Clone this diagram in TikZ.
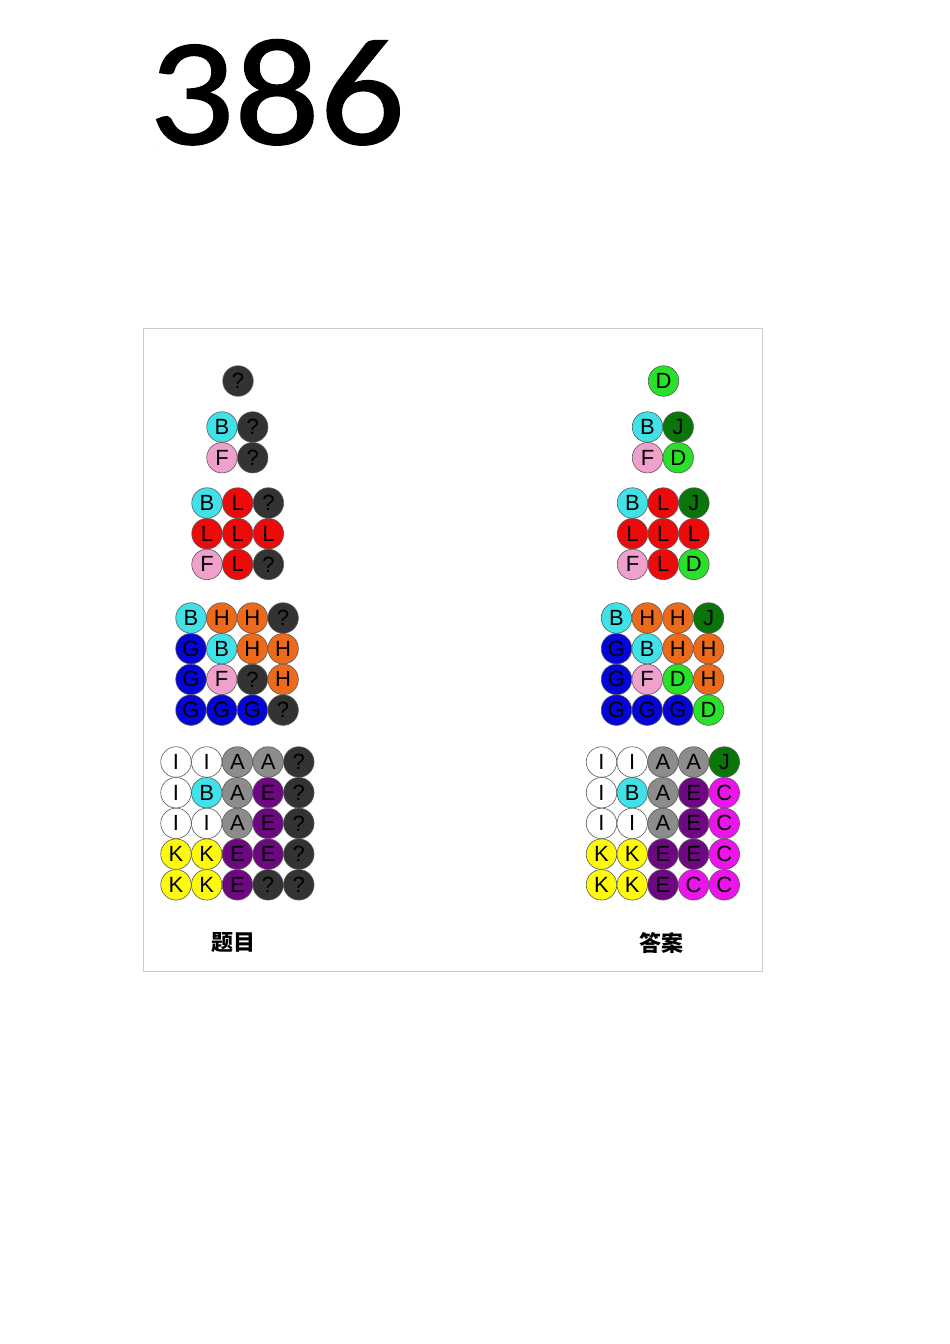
\documentclass[tikz,border=0pt]{standalone}
\usepackage{fontspec}
\setmainfont{Liberation Sans}
\newfontfamily\titlefont{Carlito}[FakeBold=1]
\newfontfamily\cjkfont{Noto Sans CJK SC}
\usepackage{tikz}

\definecolor{ballQ}{RGB}{51,51,51}
\definecolor{ballB}{RGB}{64,226,232}
\definecolor{ballF}{RGB}{240,160,204}
\definecolor{ballL}{RGB}{236,10,10}
\definecolor{ballH}{RGB}{236,106,26}
\definecolor{ballG}{RGB}{5,5,214}
\definecolor{ballA}{RGB}{140,140,140}
\definecolor{ballE}{RGB}{110,8,130}
\definecolor{ballI}{RGB}{255,255,255}
\definecolor{ballK}{RGB}{255,250,10}
\definecolor{ballD}{RGB}{40,225,40}
\definecolor{ballJ}{RGB}{10,118,10}
\definecolor{ballC}{RGB}{235,20,235}

% Q stands for the unknown ball
\newcommand{\balltext}[1]{\if Q#1?\else#1\fi}
% name, x of first column, y of first row, rows of letters
\newcommand{\ballgroup}[4]{%
	\foreach \row [count=\r] in {#4} {
		\foreach \c [count=\i] in \row {
			\node[ball, fill=ball\c] (#1-\r-\i) at ({#2+(\i-1)*30.7}, {#3+(\r-1)*30.7}) {\balltext{\c}};
		}
	}
}

\begin{document}
\begin{tikzpicture}[x=1pt, y=-1pt,
	ball/.style={circle, draw=black!65, line width=0.6pt, minimum size=30.5pt, inner sep=0pt, font=\fontsize{22}{22}\selectfont},
	caption/.style={font=\cjkfont\bfseries\fontsize{22}{22}\selectfont}]

	\useasboundingbox (0,0) rectangle (950,1344);

	% page number
	\node[anchor=base, font=\titlefont\fontsize{153}{153}\selectfont] (title) at (277,144) {\scalebox{1.1}[1]{386}};

	% frame
	\draw[black!20] (143,328) rectangle (762,971);

	% puzzle
	\ballgroup{q1}{238}{381}{{Q}}
	\ballgroup{q2}{222}{427}{{B,Q},{F,Q}}
	\ballgroup{q3}{207}{503}{{B,L,Q},{L,L,L},{F,L,Q}}
	\ballgroup{q4}{191}{618}{{B,H,H,Q},{G,B,H,H},{G,F,Q,H},{G,G,G,Q}}
	\ballgroup{q5}{176}{762}{{I,I,A,A,Q},{I,B,A,E,Q},{I,I,A,E,Q},{K,K,E,E,Q},{K,K,E,Q,Q}}

	% answer
	\ballgroup{a1}{663.5}{381}{{D}}
	\ballgroup{a2}{647.5}{427}{{B,J},{F,D}}
	\ballgroup{a3}{632.5}{503}{{B,L,J},{L,L,L},{F,L,D}}
	\ballgroup{a4}{616.5}{618}{{B,H,H,J},{G,B,H,H},{G,F,D,H},{G,G,G,D}}
	\ballgroup{a5}{601.5}{762}{{I,I,A,A,J},{I,B,A,E,C},{I,I,A,E,C},{K,K,E,E,C},{K,K,E,C,C}}

	% captions
	\node[caption] (puzzlecap) at (233,943) {题目};
	\node[caption] (answercap) at (661,943) {答案};

\end{tikzpicture}
\end{document}
